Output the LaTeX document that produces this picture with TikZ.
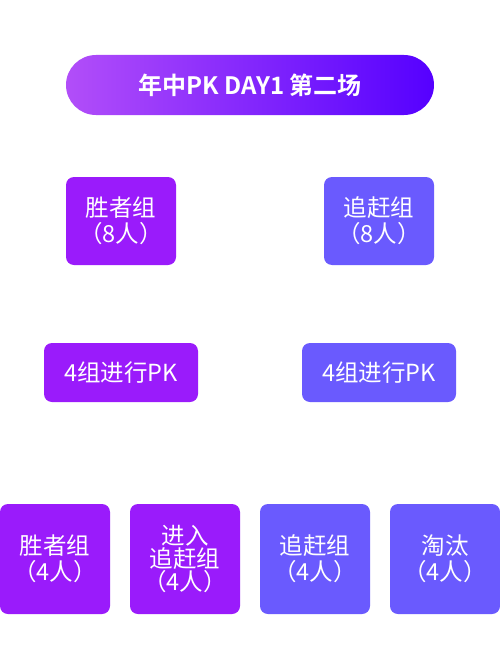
\documentclass[tikz,border=0pt]{standalone}
\usepackage{fontspec}
\newfontfamily\cjk{Noto Sans CJK SC}[BoldFont={Noto Sans CJK SC Bold}]
\definecolor{winpurple}{HTML}{9A1BFB}
\definecolor{chaseblue}{HTML}{6A5AFE}
\definecolor{titleleft}{HTML}{B24EF9}
\definecolor{titleright}{HTML}{5500FF}
\tikzstyle{group}=[rounded corners=8pt,text=white,align=center,inner sep=0pt,
  font=\cjk\fontsize{23.5}{26}\selectfont]
\tikzstyle{win}=[group,fill=winpurple]
\tikzstyle{chase}=[group,fill=chaseblue]

\begin{document}
\begin{tikzpicture}[x=1pt,y=-1pt]
  \useasboundingbox (0,0) rectangle (500,669);

  % Title.
  \node[rounded corners=30pt,left color=titleleft,right color=titleright,
    minimum width=368pt,minimum height=60pt,text=white,
    font=\cjk\bfseries\fontsize{24}{28}\selectfont] (title) at (250,85)
    {年中PK DAY1 第二场};

  % First round groups.
  \node[win,minimum width=110pt,minimum height=88pt] (win8) at (121,221)
    {胜者组\\（8人）};
  \node[chase,minimum width=110pt,minimum height=88pt] (chase8) at (379,221)
    {追赶组\\（8人）};

  % PK boxes.
  \node[win,minimum width=154pt,minimum height=59pt] (winpk) at (121,372.5)
    {4组进行PK};
  \node[chase,minimum width=154pt,minimum height=59pt] (chasepk) at (379,372.5)
    {4组进行PK};

  % Results.
  \node[win,minimum width=110pt,minimum height=110pt] (win4) at (55,559)
    {胜者组\\（4人）};
  \node[win,minimum width=110pt,minimum height=110pt,
    font=\cjk\fontsize{23.5}{23}\selectfont] (enter4) at (185,559)
    {进入\\追赶组\\（4人）};
  \node[chase,minimum width=110pt,minimum height=110pt] (chase4) at (315,559)
    {追赶组\\（4人）};
  \node[chase,minimum width=110pt,minimum height=110pt] (out4) at (445,559)
    {淘汰\\（4人）};
\end{tikzpicture}
\end{document}
